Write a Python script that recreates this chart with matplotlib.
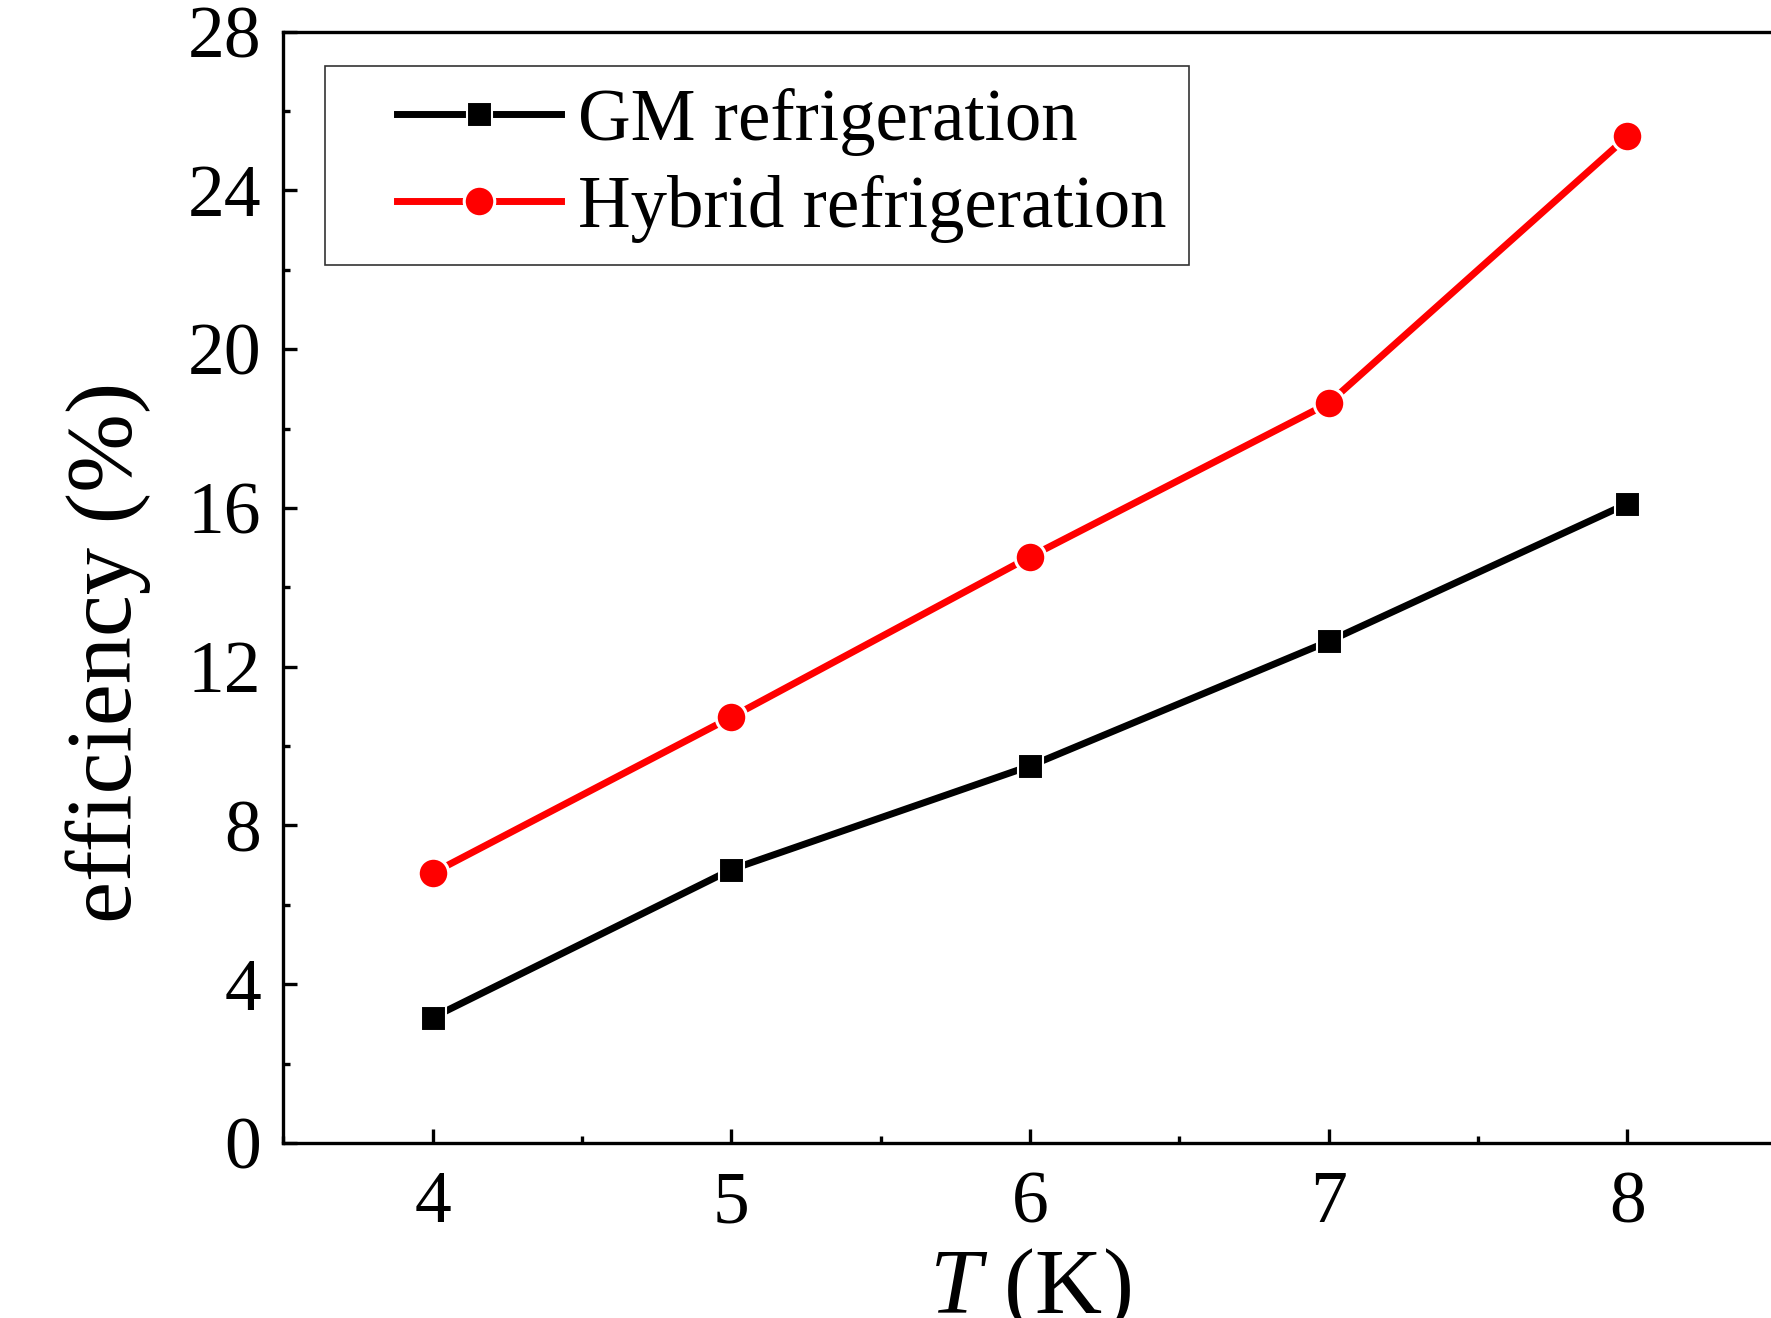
import matplotlib.pyplot as plt
from matplotlib.ticker import MultipleLocator
from matplotlib.legend_handler import HandlerLine2D

# data
temps = [4, 5, 6, 7, 8]
gm_eff = [3.16, 6.89, 9.50, 12.64, 16.11]
hybrid_eff = [6.80, 10.73, 14.77, 18.64, 25.36]

plt.rcParams['font.family'] = ['Liberation Serif', 'DejaVu Serif']
plt.rcParams['mathtext.fontset'] = 'custom'
plt.rcParams['mathtext.it'] = 'Liberation Serif:italic'
plt.rcParams['mathtext.rm'] = 'Liberation Serif'

fig = plt.figure(figsize=(17.71, 13.18), dpi=100)
ax = fig.add_axes([0.160, 0.1328, 0.8433, 0.8432])

gm_line, = ax.plot(temps, gm_eff, color='black', lw=5, marker='s', ms=18,
                   mec='white', mew=1.5, label='GM refrigeration')
hy_line, = ax.plot(temps, hybrid_eff, color='#ff0000', lw=5, marker='o', ms=22,
                   mec='white', mew=2.2, label='Hybrid refrigeration')

ax.set_xlim(3.5, 8.5)
ax.set_ylim(0, 28)
ax.xaxis.set_major_locator(MultipleLocator(1))
ax.xaxis.set_minor_locator(MultipleLocator(0.5))
ax.yaxis.set_major_locator(MultipleLocator(4))
ax.yaxis.set_minor_locator(MultipleLocator(2))
ax.tick_params(which='both', direction='in', width=2.4, labelsize=53)
ax.tick_params(axis='x', pad=20)
ax.tick_params(axis='y', pad=16)
ax.tick_params(which='major', length=10)
ax.tick_params(which='minor', length=5)
for s in ax.spines.values():
    s.set_linewidth(2.4)

ax.set_xlabel(r'$T$ (K)', fontsize=67, labelpad=6)
ax.set_ylabel('efficiency (%)', fontsize=68, labelpad=26, y=0.441)

hmap = {gm_line: HandlerLine2D(xpad=0.69), hy_line: HandlerLine2D(xpad=0.69)}
leg = ax.legend(loc='upper left', bbox_to_anchor=(0.0277, 0.969), fontsize=52.5,
                frameon=True, fancybox=False, edgecolor='black',
                handlelength=2.94, borderpad=0.3, labelspacing=0.26,
                handletextpad=0.24, borderaxespad=0, handler_map=hmap)
leg.get_frame().set_linewidth(1.2)

fig.savefig('out.png', dpi=100)
